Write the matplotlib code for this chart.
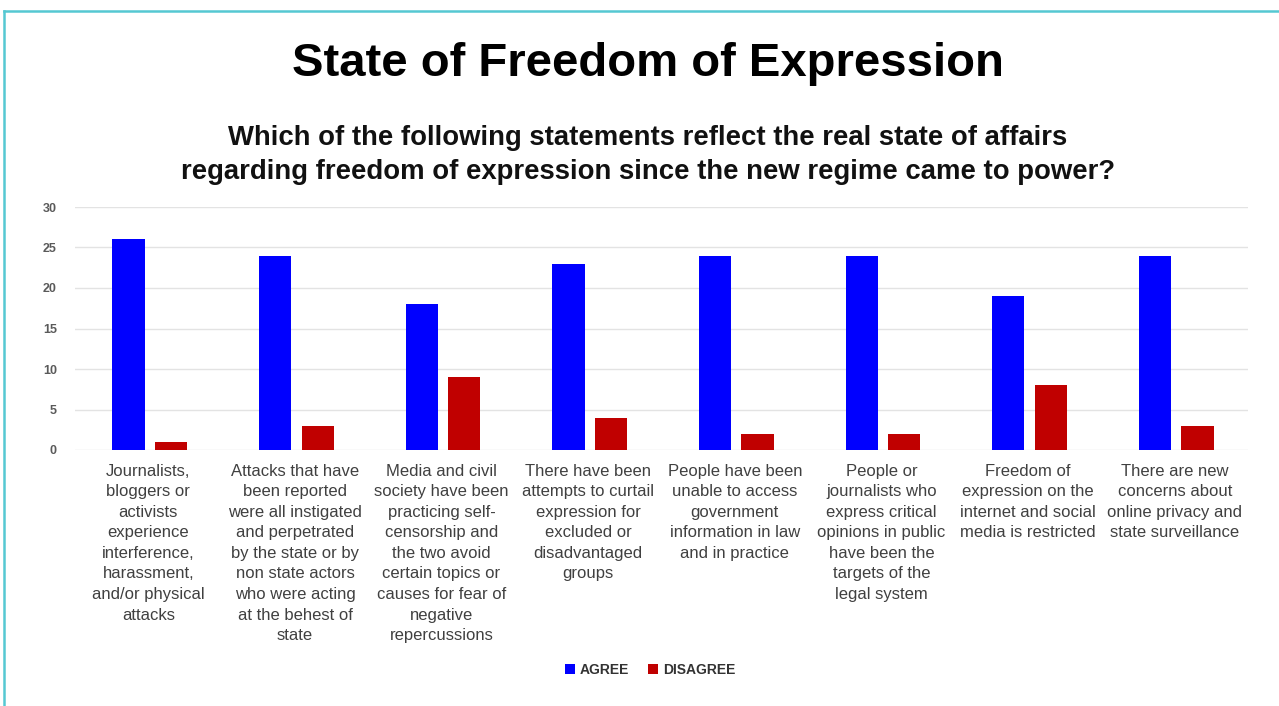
import matplotlib
matplotlib.use("Agg")
import matplotlib.pyplot as plt
from matplotlib.lines import Line2D
from matplotlib.patches import Patch
import numpy as np

plt.rcParams['font.family'] = ['Liberation Sans', 'DejaVu Sans']

categories = [
    "Journalists,\nbloggers or\nactivists\nexperience\ninterference,\nharassment,\nand/or physical\nattacks",
    "Attacks that have\nbeen reported\nwere all instigated\nand perpetrated\nby the state or by\nnon state actors\nwho were acting\nat the behest of\nstate",
    "Media and civil\nsociety have been\npracticing self-\ncensorship and\nthe two avoid\ncertain topics or\ncauses for fear of\nnegative\nrepercussions",
    "There have been\nattempts to curtail\nexpression for\nexcluded or\ndisadvantaged\ngroups",
    "People have been\nunable to access\ngovernment\ninformation in law\nand in practice",
    "People or\njournalists who\nexpress critical\nopinions in public\nhave been the\ntargets of the\nlegal system",
    "Freedom of\nexpression on the\ninternet and social\nmedia is restricted",
    "There are new\nconcerns about\nonline privacy and\nstate surveillance",
]
agree = [26, 24, 18, 23, 24, 24, 19, 24]
disagree = [1, 3, 9, 4, 2, 2, 8, 3]
y_ticks = [0, 5, 10, 15, 20, 25, 30]

AGREE_COLOR = "#0000FF"
DISAGREE_COLOR = "#C00000"

fig = plt.figure(figsize=(12.79, 7.06), dpi=100)
fig.patch.set_facecolor("white")

# teal frame (top and left edges)
frame_color = "#55C8D2"
fig.add_artist(Line2D([4 / 1279, 4 / 1279], [0, 1 - 11 / 706],
                      transform=fig.transFigure, color=frame_color, lw=1.8))
fig.add_artist(Line2D([4 / 1279, 1], [1 - 11 / 706, 1 - 11 / 706],
                      transform=fig.transFigure, color=frame_color, lw=1.8))

ax = fig.add_axes([75 / 1279, 1 - 450 / 706, (1248 - 75) / 1279, (450 - 207) / 706])

x = np.arange(len(categories))
w = 0.22
ax.bar(x - 0.135, agree, width=w, color=AGREE_COLOR, zorder=3)
ax.bar(x + 0.155, disagree, width=w, color=DISAGREE_COLOR, zorder=3)

ax.set_xlim(-0.5, len(categories) - 0.5)
ax.set_ylim(0, 30)
ax.set_yticks(y_ticks)
ax.set_yticklabels([str(v) for v in y_ticks], color="#5A5A5A", fontsize=9,
                   fontweight="bold")
ax.yaxis.grid(True, color="#E3E3E3", lw=1, zorder=0)
ax.set_axisbelow(True)
for s in ax.spines.values():
    s.set_visible(False)
ax.tick_params(axis="y", length=0, pad=13)
ax.tick_params(axis="x", length=0, pad=10)
ax.set_xticks(x)
ax.set_xticklabels(categories, fontsize=12, color="#404040", linespacing=1.46,
                   ha="center", va="top")

fig.text(648 / 1279, 1 - 64 / 706, "State of Freedom of Expression",
         ha="center", va="center", fontsize=34, fontweight="bold", color="black")
fig.text(648 / 1279, 1 - 155 / 706,
         "Which of the following statements reflect the real state of affairs\n"
         "regarding freedom of expression since the new regime came to power?",
         ha="center", va="center", fontsize=19.8, fontweight="bold",
         color="#111111", linespacing=1.36)

handles = [Patch(facecolor=AGREE_COLOR, label="AGREE"),
           Patch(facecolor=DISAGREE_COLOR, label="DISAGREE")]
leg = fig.legend(handles=handles, loc="center", bbox_to_anchor=(650 / 1279, 1 - 670 / 706),
                 ncol=2, frameon=False, handlelength=0.7, handleheight=0.7,
                 handletextpad=0.35, columnspacing=1.4,
                 prop={"size": 10, "weight": "bold"})
for t in leg.get_texts():
    t.set_color("#333333")

fig.savefig("out.png", dpi=100, facecolor="white")
